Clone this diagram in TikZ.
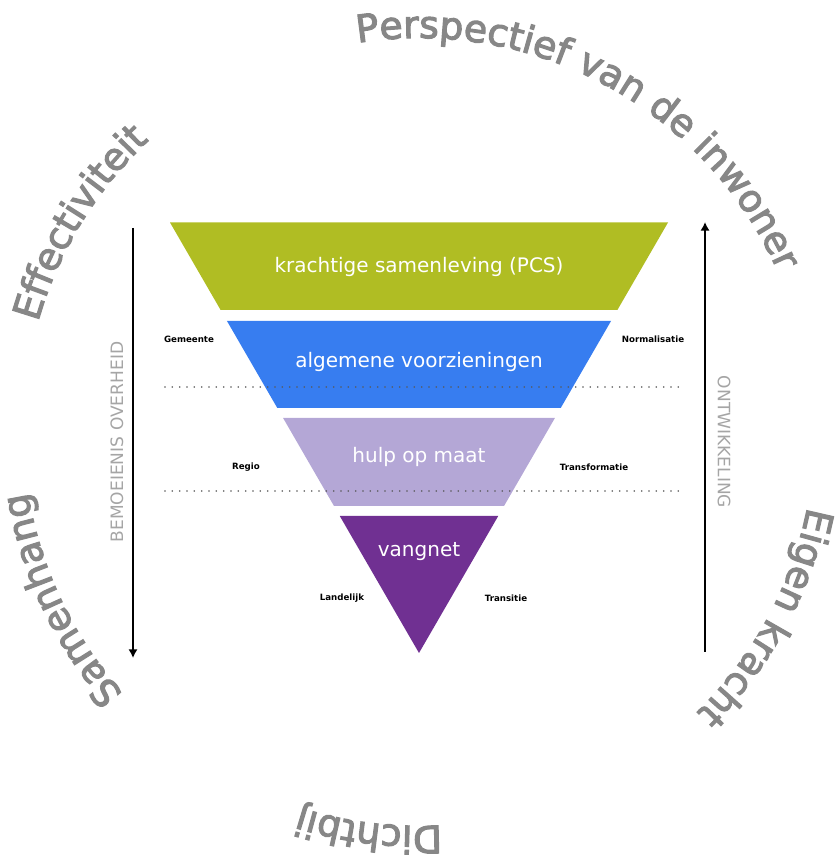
\documentclass[tikz,border=0pt]{standalone}
\usepackage{fontspec}
\setmainfont{DejaVu Sans}
\newfontfamily\ringfamily[FakeBold=3]{DejaVu Sans}
\usepackage{tikz}
\usetikzlibrary{decorations.text, arrows.meta}

\definecolor{pcsgreen}{RGB}{176,189,35}
\definecolor{algblue}{RGB}{55,125,240}
\definecolor{hulplilac}{RGB}{180,167,214}
\definecolor{vangpurple}{RGB}{112,48,146}
\definecolor{ringgray}{RGB}{135,135,135}
\definecolor{sidegray}{RGB}{165,165,165}

\newcommand{\ringfont}{\ringfamily\fontsize{28.3pt}{30pt}\selectfont\color{ringgray}}

\tikzset{
    bandtext/.style={text=white, font=\fontsize{15pt}{18pt}\selectfont},
    levellabel/.style={font=\bfseries\fontsize{6.5pt}{8pt}\selectfont},
    sidelabel/.style={text=sidegray, font=\fontsize{12.8pt}{15pt}\selectfont},
    levelline/.style={black!65, line width=1.3pt, line cap=round, dash pattern=on 0pt off 5.5pt},
    ringtext/.style={decorate, decoration={text along path, text align=left, text={|\ringfont|#1}}}
}

\begin{document}
\begin{tikzpicture}[x=0.75pt, y=0.75pt]
        \useasboundingbox (0,0) rectangle (836,855);

        \foreach \ya/\yb/\col in {632.5/545/pcsgreen, 534/447/algblue, 437/349/hulplilac, 339/202/vangpurple}
            \fill[\col] ({419-0.5784*(\ya-202)},\ya) -- ({419+0.5784*(\ya-202)},\ya)
                -- ({419+0.5784*(\yb-202)},\yb) -- ({419-0.5784*(\yb-202)},\yb) -- cycle;

        \node[bandtext] (pcs) at (419,588) {krachtige samenleving (PCS)};
        \node[bandtext] (alg) at (419,493) {algemene voorzieningen};
        \node[bandtext] (hulp) at (419,398) {hulp op maat};
        \node[bandtext] (vangnet) at (419,303) {vangnet};

        \foreach \y in {468,364}
            \draw[levelline] (165,\y) -- (680,\y);

        \node[levellabel] (gemeente) at (189,516) {Gemeente};
        \node[levellabel] (normalisatie) at (653,516) {Normalisatie};
        \node[levellabel] (regio) at (246,388) {Regio};
        \node[levellabel] (transformatie) at (594,388) {Transformatie};
        \node[levellabel] (landelijk) at (342,257) {Landelijk};
        \node[levellabel] (transitie) at (506,257) {Transitie};

        \coordinate (bemtop) at (133,627);
        \coordinate (bembot) at (133,197);
        \coordinate (ontbot) at (705,203);
        \coordinate (onttop) at (705,633);
        \draw[line width=2pt, -{Latex[length=6.5pt,width=7pt]}] (bemtop) -- (bembot);
        \draw[line width=2pt, -{Latex[length=6.5pt,width=7pt]}] (ontbot) -- (onttop);

        \node[sidelabel, rotate=90] (overheid) at (117,413) {BEMOEIENIS OVERHEID};
        \node[sidelabel, rotate=-90] (ontwikkeling) at (724,413) {ONTWIKKELING};

        \coordinate (hart) at (419,425);
        \path[ringtext={Perspectief van de inwoner}] (hart) ++(99:392) arc[start angle=99, end angle=10, radius=392];
        \path[ringtext={Eigen kracht}] (hart) ++(-11.2:396) arc[start angle=-11.2, end angle=-70, radius=396];
        \path[ringtext={Dichtbij}] (hart) ++(-86.7:396) arc[start angle=-86.7, end angle=-130, radius=396];
        \path[ringtext={Samenhang}] (hart) ++(221.7:396) arc[start angle=221.7, end angle=170, radius=396];
        \path[ringtext={Effectiviteit}] (hart) ++(164.2:396) arc[start angle=164.2, end angle=110, radius=396];
\end{tikzpicture}
\end{document}
